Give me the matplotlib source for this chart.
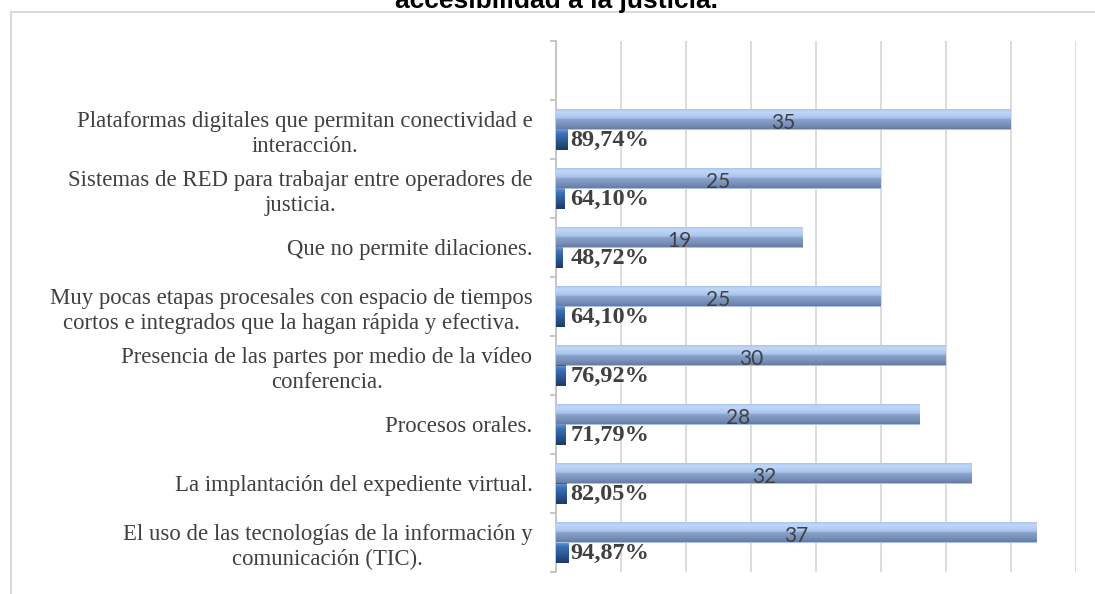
import numpy as np
import matplotlib.pyplot as plt
from matplotlib.colors import LinearSegmentedColormap
from matplotlib.patches import Rectangle

# Datos (de abajo hacia arriba)
categorias = [
    'El uso de las tecnologías de la información y\ncomunicación (TIC).',
    'La implantación del expediente virtual.',
    'Procesos orales.',
    'Presencia de las partes por medio de la vídeo\nconferencia.',
    'Muy pocas etapas procesales con espacio de tiempos\ncortos e integrados que la hagan rápida y efectiva.',
    'Que no permite dilaciones.',
    'Sistemas de RED para trabajar entre operadores de\njusticia.',
    'Plataformas digitales que permitan conectividad e\ninteracción.',
]
frecuencia = [37, 32, 28, 30, 25, 19, 25, 35]
porcentaje = [0.9487, 0.8205, 0.7179, 0.7692, 0.6410, 0.4872, 0.6410, 0.8974]
etiq_pct = ['94,87%', '82,05%', '71,79%', '76,92%', '64,10%', '48,72%', '64,10%', '89,74%']
titulo = 'accesibilidad a la justicia.'

gris = '#404040'
h = 0.34

fig = plt.figure(figsize=(10.95, 5.94), dpi=100)
ax = fig.add_axes([556/1095, 1-572/594, 520/1095, 531/594])

y = np.arange(len(categorias))

# marco del gráfico
fig.patches.append(Rectangle((11/1095, -0.1), 1.2, 1.1-12/594, transform=fig.transFigure,
                             fill=False, edgecolor='#d9d9d9', lw=1.5, zorder=0))

b1 = ax.barh(y + h/2, frecuencia, height=h, color='#a6c2ec', zorder=3)
b2 = ax.barh(y - h/2, porcentaje, height=h, color='#2e5e9e', zorder=3)

cm1 = LinearSegmentedColormap.from_list('c1', [(0, '#687ca3'), (0.2, '#7990b8'), (0.45, '#89a3cd'),
                                               (0.52, '#a8c3ec'), (0.8, '#c0d7f7'), (0.93, '#b2ccf1'),
                                               (1, '#8eaedd')])
cm2 = LinearSegmentedColormap.from_list('c2', [(0, '#1c3a66'), (0.4, '#2a5694'), (0.8, '#3e72b8'),
                                               (1, '#6f9ad6')])
grad = np.linspace(0, 1, 64).reshape(-1, 1)
for bars, cm in ((b1, cm1), (b2, cm2)):
    for p in bars:
        x0, y0 = p.get_x(), p.get_y()
        im = ax.imshow(grad, cmap=cm, origin='lower', aspect='auto', zorder=4,
                       extent=[x0, x0 + p.get_width(), y0, y0 + p.get_height()])
        im.set_clip_path(p)

for i in range(len(categorias)):
    ax.text(frecuencia[i]/2, y[i] + h/2 - 0.06, str(frecuencia[i]), ha='center', va='center',
            fontsize=15, color=gris, family='Lato', zorder=5)
    ax.annotate(etiq_pct[i], (0, y[i] - h/2), xytext=(10.5, -0.5), textcoords='offset points',
                ha='left', va='center', fontsize=17.5, fontweight='bold', color=gris,
                family='Liberation Serif', zorder=5)

ax.set_xlim(0, 40)
ax.set_ylim(-0.5, len(categorias) + 0.5)
ax.set_xticks(np.arange(0, 41, 5))
ax.tick_params(axis='x', length=0, labelbottom=False)
ax.grid(axis='x', color='#d9d9d9', lw=1.3, zorder=0)
ax.set_axisbelow(True)

ax.set_yticks(y)
ax.set_yticklabels(categorias, family='Liberation Serif', fontsize=16.4, color=gris,
                   multialignment='center', linespacing=1.25)
ax.set_yticks(np.arange(-0.5, len(categorias) + 1, 1), minor=True)
ax.tick_params(axis='y', which='major', length=0, pad=17)
ax.tick_params(axis='y', which='minor', length=4, color='#bfbfbf', width=1.2)

for s in ['top', 'right', 'bottom']:
    ax.spines[s].set_visible(False)
ax.spines['left'].set_color('#bfbfbf')
ax.spines['left'].set_linewidth(1.2)

fig.text(0.508, 1 - 8/594, titulo, ha='center', va='baseline', fontsize=19,
         fontweight='bold', family='Liberation Sans', color='black')

plt.savefig('out.png', dpi=100)
